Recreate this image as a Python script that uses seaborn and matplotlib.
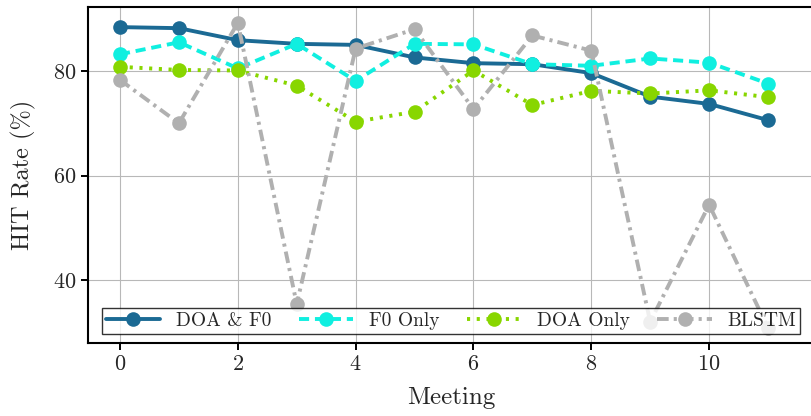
import matplotlib
matplotlib.use("Agg")
import matplotlib.pyplot as plt
import seaborn as sns
import numpy as np

meetings = list(range(12))
doa_f0 = [88.4, 88.2, 85.9, 85.2, 85.0, 82.6, 81.5, 81.3, 79.6, 75.1, 73.7, 70.6]
f0_only = [83.2, 85.5, 80.5, 85.2, 78.1, 85.2, 85.1, 81.3, 81.0, 82.4, 81.6, 77.6]
doa_only = [80.8, 80.2, 80.1, 77.2, 70.3, 72.2, 80.1, 73.5, 76.2, 75.7, 76.3, 75.0]
blstm = [78.3, 70.0, 89.2, 35.4, 84.3, 88.0, 72.7, 86.8, 83.9, 32.0, 54.4, 30.8]

series_names = ["DOA & F0", "F0 Only", "DOA Only", "BLSTM"]
series_values = [doa_f0, f0_only, doa_only, blstm]
colors = ["#1b6a94", "#10efe0", "#88d600", "#b0b0b0"]
styles = ["-", (0, (2.6, 1.5)), (0, (0.8, 1.7)), (0, (3.0, 1.3, 0.8, 1.3))]

sns.set_style("whitegrid")
plt.rcParams["font.family"] = ["serif"]
plt.rcParams["font.serif"] = ["cmr10", "DejaVu Serif"]
plt.rcParams["mathtext.fontset"] = "cm"
plt.rcParams["axes.formatter.use_mathtext"] = True

fig = plt.figure(figsize=(8.11, 4.16), dpi=100)
ax = fig.add_axes([88 / 811, 73 / 416, 726 / 811, 336 / 416])

for name, vals, c, ls in zip(series_names, series_values, colors, styles):
    sns.lineplot(x=meetings, y=vals, ax=ax, color=c, linestyle=ls,
                 linewidth=2.8, marker="o", markersize=10.5,
                 markeredgewidth=0, label=name)

ax.set_xlim(-0.543, 11.78)
ax.set_ylim(27.95, 92.25)
ax.set_xticks([0, 2, 4, 6, 8, 10])
ax.set_yticks([40, 60, 80])
ax.set_xlabel("Meeting", fontsize=18, labelpad=9)
ax.set_ylabel("HIT Rate (%)", fontsize=17.5, labelpad=12)
ax.tick_params(axis="both", labelsize=16, direction="out", length=5,
               width=1.4, color="black", left=True, bottom=True)
ax.grid(True, color="#b8b8b8", linewidth=0.8)
for s in ax.spines.values():
    s.set_color("black")
    s.set_linewidth(1.5)

leg = ax.legend(loc="lower left", ncol=4, mode="expand",
                bbox_to_anchor=(14 / 726, 9 / 336, 698 / 726, 28 / 336),
                fontsize=14, handlelength=2.8, framealpha=0.8,
                fancybox=False, edgecolor="black", borderaxespad=0,
                borderpad=0.2, handletextpad=0.8)
leg.get_frame().set_linewidth(1.0)

fig.savefig("out.png", dpi=100)
